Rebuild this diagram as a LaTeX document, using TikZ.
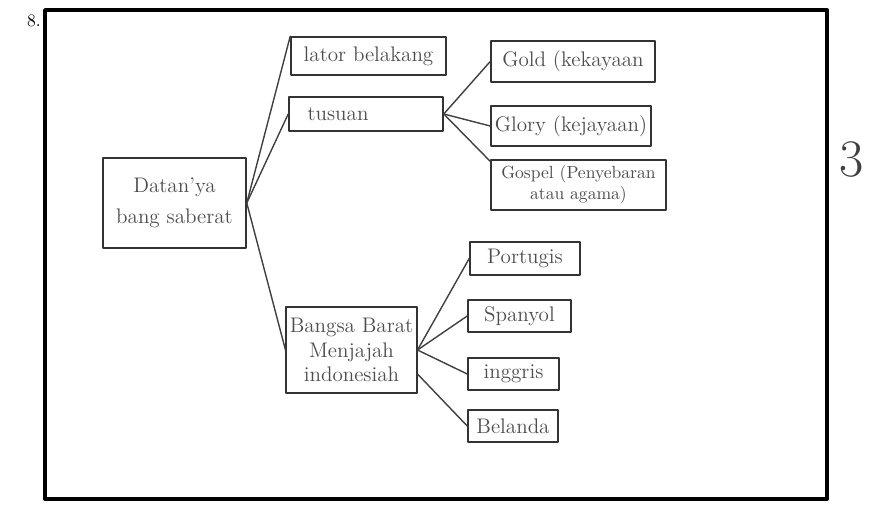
\documentclass[tikz,border=0pt]{standalone}
\usepackage{tikz}
\usetikzlibrary{arrows}

\tikzset{
  kotak/.style={draw=black!80,line width=0.9pt,text=black!70,font=\large,inner sep=2pt,align=center},
  garis/.style={draw=black!75,line width=0.8pt}
}

\begin{document}
\begin{tikzpicture}[line cap=round,line join=round,x=0.02cm,y=-0.02cm]
\useasboundingbox (0,0) rectangle (871,506);
\draw[line width=2.2pt,color=black] (45,10) rectangle (827,499);
\draw (34,21) node {\normalsize 8.};
\draw (852,160) node[text=black!75] {\fontsize{30}{30}\selectfont 3};
% akar
\node[kotak,minimum width=2.86cm,minimum height=1.8cm] (akar) at (174.5,203) {Datan'ya\\[4pt]bang saberat};
% cabang atas
\node[kotak,minimum width=3.1cm,minimum height=0.76cm] (latar) at (368.5,56) {lator belakang};
\node[kotak,minimum width=3.08cm,minimum height=0.68cm,text width=2.9cm,align=left] (tujuan) at (366,114) {\ \ tusuan};
\node[kotak,minimum width=3.28cm,minimum height=0.82cm] (gold) at (573,61.5) {Gold (kekayaan};
\node[kotak,minimum width=3.2cm,minimum height=0.8cm] (glory) at (571,126) {Glory (kejayaan)};
\node[kotak,minimum width=3.5cm,minimum height=1cm,font=\normalsize] (gospel) at (578.5,185) {Gospel (Penyebaran\\atau agama)};
% cabang bawah
\node[kotak,minimum width=2.46cm,minimum height=1.72cm] (bangsa) at (351.5,350) {Bangsa Barat\\Menjajah\\indonesiah};
\node[kotak,minimum width=2.2cm,minimum height=0.66cm] (portugis) at (525,258.5) {Portugis};
\node[kotak,minimum width=2.06cm,minimum height=0.64cm] (spanyol) at (519.5,316) {Spanyol};
\node[kotak,minimum width=1.82cm,minimum height=0.64cm] (inggris) at (513.5,374) {inggris};
\node[kotak,minimum width=1.8cm,minimum height=0.64cm] (belanda) at (513,426) {Belanda};
% garis
\draw[garis] (akar.east) -- (latar.north west);
\draw[garis] (akar.east) -- (tujuan.west);
\draw[garis] (akar.east) -- (bangsa.west);
\draw[garis] (tujuan.east) -- (gold.west);
\draw[garis] (tujuan.east) -- (glory.west);
\draw[garis] (tujuan.east) -- (gospel.165);
\draw[garis] (bangsa.east) -- (portugis.west);
\draw[garis] (bangsa.east) -- (spanyol.west);
\draw[garis] (bangsa.east) -- (inggris.west);
\draw[garis] (bangsa.-20) -- (belanda.west);
\end{tikzpicture}
\end{document}
